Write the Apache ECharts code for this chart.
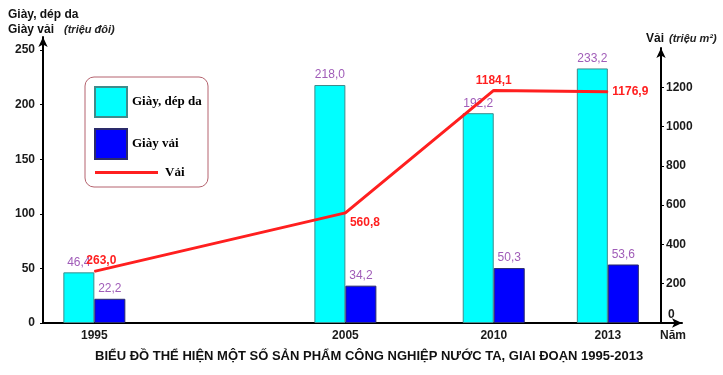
<!DOCTYPE html>
<html>
<head>
<meta charset="utf-8">
<script src="https://cdn.jsdelivr.net/npm/echarts@6/dist/echarts.min.js"></script>
<style>html,body{margin:0;padding:0;background:#fff;}#c{width:723px;height:375px;}</style>
</head>
<body>
<div id="c"></div>
<script>
// Category slots (blank entries keep the original uneven spacing of the years)
const categories = ['', '', '', '', '1995',
  '', '', '', '', '', '', '', '', '', '', '', '', '', '', '', '', '', '', '', '', '',
  '2005',
  '', '', '', '', '', '', '', '', '', '', '', '',
  '2010',
  '', '', '', '', '', '', '', '', '',
  '2013',
  '', '', '', '', '', ''];
const years = ['1995', '2005', '2010', '2013'];
const leatherShoes = [46.4, 218.0, 192.2, 233.2];   // Giày, dép da (triệu đôi)
const canvasShoes = [22.2, 34.2, 50.3, 53.6];      // Giày vải (triệu đôi)
const fabric = [263.0, 560.8, 1184.1, 1176.9];     // Vải (triệu m2)
const leftTicks = [0, 50, 100, 150, 200, 250];
const rightTicks = [0, 200, 400, 600, 800, 1000, 1200];

function spread(values) {
  return categories.map(function (c) {
    const i = years.indexOf(c);
    return i < 0 ? '-' : values[i];
  });
}
const fmt = function (v) { return Number(v).toFixed(1).replace('.', ','); };

const lineLabelCfg = [
  { position: 'top', offset: [7, 0], distance: 4 },
  { position: 'right', offset: [0, 10], distance: 4 },
  { position: 'top', offset: [0, 0], distance: 3 },
  { position: 'right', offset: [0, 0], distance: 4 }
];
const fabricData = categories.map(function (c) {
  const i = years.indexOf(c);
  if (i < 0) return '-';
  return { value: fabric[i], label: lineLabelCfg[i] };
});

const FONT = 'Liberation Sans, Arial, sans-serif';
const axisLbl = { fontFamily: FONT, fontWeight: 'bold', fontSize: 12, color: '#1a1a1a' };
const purple = '#a05cb8';

const chart = echarts.init(document.getElementById('c'), null, { renderer: 'canvas' });
chart.setOption({
  backgroundColor: '#fff',
  animation: false,
  title: [
    {
      left: 8, top: 8, padding: 0,
      text: '{b|Giày, dép da}\n{b|Giày vải}  {i|(triệu đôi)}',
      textStyle: {
        rich: {
          b: { fontFamily: FONT, fontWeight: 'bold', fontSize: 12, color: '#111', lineHeight: 13 },
          i: { fontFamily: FONT, fontStyle: 'italic', fontSize: 11, color: '#222', lineHeight: 13 }
        }
      }
    },
    {
      left: 646, top: 30, padding: 0,
      text: '{b|Vải} {i|(triệu m²)}',
      textStyle: {
        rich: {
          b: { fontFamily: FONT, fontWeight: 'bold', fontSize: 12, color: '#111' },
          i: { fontFamily: FONT, fontStyle: 'italic', fontSize: 11, color: '#222' }
        }
      }
    },
    {
      left: 95, top: 350, padding: 0,
      text: 'BIỂU ĐỒ THỂ HIỆN MỘT SỐ SẢN PHẨM CÔNG NGHIỆP NƯỚC TA, GIAI ĐOẠN 1995-2013',
      textStyle: { fontFamily: FONT, fontWeight: 'bold', fontSize: 13, color: '#111' }
    }
  ],
  graphic: [{
    type: 'rect', z: 1,
    shape: { x: 85, y: 77, width: 123, height: 110, r: 9 },
    style: { fill: '#fff', stroke: '#b5636e', lineWidth: 1 }
  }],
  legend: [
    {
      z: 5, orient: 'vertical', left: 94, top: 86, padding: 0,
      data: ['Giày, dép da', 'Giày vải'],
      icon: 'rect', itemWidth: 32, itemHeight: 30, itemGap: 10,
      textStyle: { fontFamily: 'Liberation Serif, Times New Roman, serif', fontWeight: 'bold', fontSize: 13, color: '#000' }
    },
    {
      z: 5, orient: 'vertical', left: 95, top: 166, padding: 0,
      data: [{ name: 'Vải', icon: 'rect' }],
      itemWidth: 63, itemHeight: 3,
      textStyle: { fontFamily: 'Liberation Serif, Times New Roman, serif', fontWeight: 'bold', fontSize: 13, color: '#000', padding: [0, 0, 0, 2] }
    }
  ],
  grid: [
    { left: 43, right: 41, top: 37, bottom: 52 },
    { left: 43, right: 41, top: 48, bottom: 52 }
  ],
  xAxis: [
    {
      type: 'category', gridIndex: 0, data: categories,
      axisLine: { lineStyle: { color: '#000', width: 2 }, symbol: ['none', 'arrow'], symbolSize: [7, 10] },
      axisTick: { show: false },
      axisLabel: Object.assign({ interval: 0, margin: 7 }, axisLbl),
      name: 'Năm', nameLocation: 'end', nameGap: -9,
      nameTextStyle: { fontFamily: FONT, fontWeight: 'bold', fontSize: 12, color: '#1a1a1a', align: 'center', verticalAlign: 'top', padding: [7, 0, 0, 0] }
    },
    { type: 'category', gridIndex: 1, data: categories, show: false }
  ],
  yAxis: [
    {
      type: 'value', gridIndex: 0, position: 'left', min: 0, max: 262, interval: 50,
      axisLine: { show: true, lineStyle: { color: '#000', width: 2 }, symbol: ['none', 'arrow'], symbolSize: [7, 10] },
      axisTick: { show: true, length: 3, lineStyle: { color: '#000' }, customValues: leftTicks },
      axisLabel: Object.assign({ margin: 8, customValues: leftTicks, formatter: function (v) { return String(v); } }, axisLbl),
      splitLine: { show: false }
    },
    {
      type: 'value', gridIndex: 1, position: 'right', offset: -21, min: 0, max: 1400, interval: 200,
      axisLine: { show: true, lineStyle: { color: '#000', width: 2 }, symbol: ['none', 'arrow'], symbolSize: [7, 10] },
      axisTick: { show: true, length: 3, lineStyle: { color: '#000' }, customValues: rightTicks },
      axisLabel: Object.assign({
        margin: 5, customValues: rightTicks,
        formatter: function (v) { return v === 0 ? '{z|0}' : String(v); },
        rich: { z: { fontFamily: FONT, fontWeight: 'bold', fontSize: 12, color: '#1a1a1a', padding: [0, 0, 16, 2] } }
      }, axisLbl),
      splitLine: { show: false }
    }
  ],
  series: [
    {
      name: 'Giày, dép da', type: 'bar', xAxisIndex: 0, yAxisIndex: 0,
      data: spread(leatherShoes), barWidth: 31, barGap: '0%',
      itemStyle: { color: '#00ffff', borderColor: '#3f8b8b', borderWidth: 1 },
      label: { show: true, position: 'top', distance: 4, formatter: function (p) { return fmt(p.value); },
        fontFamily: FONT, fontSize: 12, color: purple }
    },
    {
      name: 'Giày vải', type: 'bar', xAxisIndex: 0, yAxisIndex: 0,
      data: spread(canvasShoes), barWidth: 31, barGap: '0%',
      itemStyle: { color: '#0000ff', borderColor: '#2a2a6a', borderWidth: 1 },
      label: { show: true, position: 'top', distance: 4, formatter: function (p) { return fmt(p.value); },
        fontFamily: FONT, fontSize: 12, color: purple }
    },
    {
      name: 'Vải', type: 'line', xAxisIndex: 1, yAxisIndex: 1, z: 4,
      data: fabricData, connectNulls: true,
      symbol: 'circle', symbolSize: 1,
      lineStyle: { color: '#ff1f1f', width: 3 },
      itemStyle: { color: '#ff1f1f' },
      label: { show: true, formatter: function (p) { return fmt(p.value); },
        fontFamily: FONT, fontWeight: 'bold', fontSize: 12, color: '#ff1f1f' }
    }
  ]
});
</script>
</body>
</html>
